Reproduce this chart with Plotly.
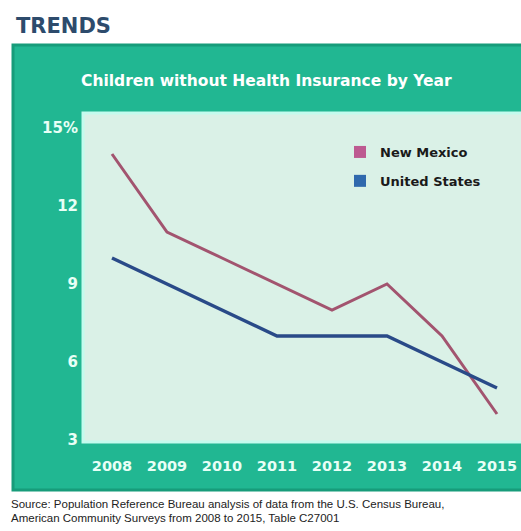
import plotly.graph_objects as go

# Uninsured children (%) by year
years = [2008, 2009, 2010, 2011, 2012, 2013, 2014, 2015]
new_mexico = [14, 11, 10, 9, 8, 9, 7, 4]
united_states = [10, 9, 8, 7, 7, 7, 6, 5]

y_tickvals = [3, 6, 9, 12, 15]
y_ticktext = ["3", "6", "9", "12", "15%"]
x_ticktext = [str(y) for y in years]

W, H = 521, 531
L, R, T, B = 83, 521, 113, 442  # plot area in pixels


def px(x):
    return (x - L) / (R - L)


def py(y):
    return (B - y) / (B - T)


TEAL = "#21b792"
TEAL_DARK = "#179c7a"
MINT = "#daf1e7"
LABEL = "#e8fff6"
NM_COLOR = "#a2546f"
US_COLOR = "#294a88"

fig = go.Figure()

fig.add_trace(go.Scatter(x=years, y=new_mexico, mode="lines", name="New Mexico",
                         line=dict(color=NM_COLOR, width=3), showlegend=False))
fig.add_trace(go.Scatter(x=years, y=united_states, mode="lines", name="United States",
                         line=dict(color=US_COLOR, width=3.5), showlegend=False))

# square legend keys
fig.add_trace(go.Scatter(x=[None], y=[None], mode="markers", name="New Mexico",
                         legendgroup="nm",
                         marker=dict(symbol="square", size=12, color="#bd5a91")))
fig.add_trace(go.Scatter(x=[None], y=[None], mode="markers", name="United States",
                         legendgroup="us",
                         marker=dict(symbol="square", size=12, color="#2f69ad")))

shapes = [
    # teal panel
    dict(type="rect", xref="paper", yref="paper", layer="below",
         x0=px(13), x1=px(540), y0=py(490), y1=py(45),
         fillcolor=TEAL, line=dict(color=TEAL_DARK, width=3)),
    # plot area
    dict(type="rect", xref="paper", yref="paper", layer="below",
         x0=0, x1=px(540), y0=0, y1=1,
         fillcolor=MINT, line=dict(color="#c4fbee", width=3)),
]

source_font = dict(family="Liberation Sans", size=11.5, color="#222222")

fig.update_layout(
    width=W, height=H,
    margin=dict(l=L, r=W - R, t=T, b=H - B, pad=0),
    paper_bgcolor="white",
    plot_bgcolor="rgba(0,0,0,0)",
    shapes=shapes,
    showlegend=True,
    legend=dict(x=px(340), y=py(137), xanchor="left", yanchor="top",
                bgcolor="rgba(0,0,0,0)", borderwidth=0, tracegroupgap=9,
                font=dict(family="DejaVu Sans", size=13, color="#1a1a1a", weight="bold")),
    xaxis=dict(range=[2008 - 29 / 55, 2008 - 29 / 55 + (R - L) / 55],
               tickvals=years, ticktext=x_ticktext, showgrid=False, zeroline=False,
               showline=False, ticks="", ticklabelstandoff=13,
               tickfont=dict(family="DejaVu Sans", size=14.5, color=LABEL, weight="bold")),
    yaxis=dict(range=[3 - 2 / 26, 3 - 2 / 26 + (B - T) / 26],
               tickvals=y_tickvals, ticktext=y_ticktext, showgrid=False, zeroline=False,
               showline=False, ticks="", ticklabelstandoff=4,
               tickfont=dict(family="DejaVu Sans", size=15, color=LABEL, weight="bold")),
    annotations=[
        dict(text="TRENDS", xref="paper", yref="paper", x=px(14), y=py(26),
             xanchor="left", yanchor="middle", showarrow=False,
             font=dict(family="DejaVu Sans", size=21, color="#2d4b6c", weight="bold")),
        dict(text="Children without Health Insurance by Year", xref="paper", yref="paper",
             x=px(79), y=py(81), xanchor="left", yanchor="middle", showarrow=False,
             font=dict(family="DejaVu Sans", size=15.5, color="white", weight="bold")),
        dict(text="Source: Population Reference Bureau analysis of data from the U.S. Census Bureau,",
             xref="paper", yref="paper", x=px(9), y=py(504), xanchor="left", yanchor="middle",
             showarrow=False, font=source_font),
        dict(text="American Community Surveys from 2008 to 2015, Table C27001",
             xref="paper", yref="paper", x=px(9), y=py(518), xanchor="left", yanchor="middle",
             showarrow=False, font=source_font),
    ],
)

fig.write_html("out.html")
